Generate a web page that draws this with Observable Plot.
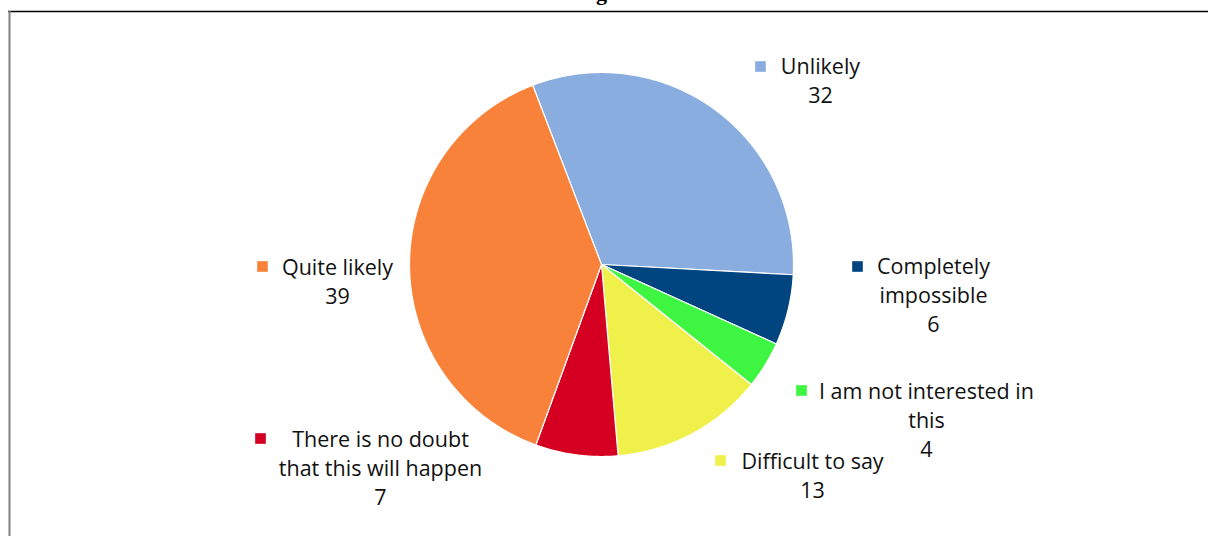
<!DOCTYPE html>
<html>
<head>
<meta charset="utf-8">
<script src="https://cdn.jsdelivr.net/npm/d3@7"></script>
<script src="https://cdn.jsdelivr.net/npm/@observablehq/plot@0.6"></script>
<style>
  html, body { margin: 0; padding: 0; background: #ffffff; }
  #chart svg { display: block; }
</style>
</head>
<body>
<div id="chart"></div>
<script>
// ---- data ----
const categories = ["Unlikely", "Completely impossible", "I am not interested in this", "Difficult to say", "There is no doubt that this will happen", "Quite likely"];
const labelLines = ["Unlikely", "Completely\nimpossible", "I am not interested in\nthis", "Difficult to say", "There is no doubt\nthat this will happen", "Quite likely"];
const values = [32, 6, 4, 13, 7, 39];
const colors = ["#8AADE0", "#00457F", "#3EF542", "#F0F04A", "#D50021", "#F8823A"];

// ---- layout (pixels) ----
const W = 1208, H = 536;
const cx = 601, cy = 264, R = 192;
const startDeg = -21;
const labelPos = [ // [square x, square y, text center x, first line y]
  [760, 66, 820, 64],
  [857, 266, 933, 264],
  [801, 390, 926, 389],
  [720, 460, 812, 459],
  [260, 438, 380, 437],
  [262, 266, 337, 265]
];
const LH = 29;
const FS = 21.5;

const pie = d3.pie().sort(null).value(d => d.value)
  .startAngle(startDeg * Math.PI / 180)
  .endAngle((startDeg + 360) * Math.PI / 180);
const rows = categories.map((c, i) => ({category: c, label: labelLines[i], value: values[i], color: colors[i]}));
const arcs = pie(rows);

const sliceMarks = arcs.map(a => {
  const pts = [{x: cx, y: cy}];
  const n = Math.max(4, Math.ceil((a.endAngle - a.startAngle) / (Math.PI / 360)));
  for (let k = 0; k <= n; k++) {
    const t = a.startAngle + (a.endAngle - a.startAngle) * k / n;
    pts.push({x: cx + R * Math.sin(t), y: cy - R * Math.cos(t)});
  }
  pts.push({x: cx, y: cy});
  return Plot.line(pts, {x: "x", y: "y", fill: a.data.color, stroke: "white", strokeWidth: 1.2, strokeLinejoin: "round"});
});

const labelRows = rows.map((r, i) => {
  const lines = (r.label + "\n" + r.value).split("\n");
  return {...r, sx: labelPos[i][0], sy: labelPos[i][1], tx: labelPos[i][2],
          ty: labelPos[i][3] + (lines.length - 1) * LH / 2, text: lines.join("\n")};
});

const chart = Plot.plot({
  width: W, height: H,
  margin: 0,
  x: {domain: [0, W], range: [0, W], axis: null},
  y: {domain: [0, H], range: [0, H], axis: null},
  style: {fontFamily: "'Open Sans', sans-serif", background: "#ffffff"},
  marks: [
    Plot.ruleY([11], {x1: 8, x2: W, stroke: "#000000", strokeWidth: 1.3}),
    Plot.ruleX([9], {y1: 11, y2: H, stroke: "#808080", strokeWidth: 2}),
    Plot.text(["g"], {x: () => 601, y: () => -1, text: d => d, lineAnchor: "bottom", fontSize: 22, fontWeight: "bold", fontFamily: "'Liberation Serif', serif", fill: "#000"}),
    ...sliceMarks,
    Plot.dot(labelRows, {x: "sx", y: "sy", fill: "color", symbol: "square", r: 6, stroke: null}),
    Plot.text(labelRows, {x: "tx", y: "ty", text: "text", textAnchor: "middle", lineAnchor: "middle", lineHeight: LH / FS, fontSize: FS, fill: "#111"})
  ],
  color: {type: "identity"}
});
document.getElementById("chart").append(chart);
</script>
</body>
</html>
